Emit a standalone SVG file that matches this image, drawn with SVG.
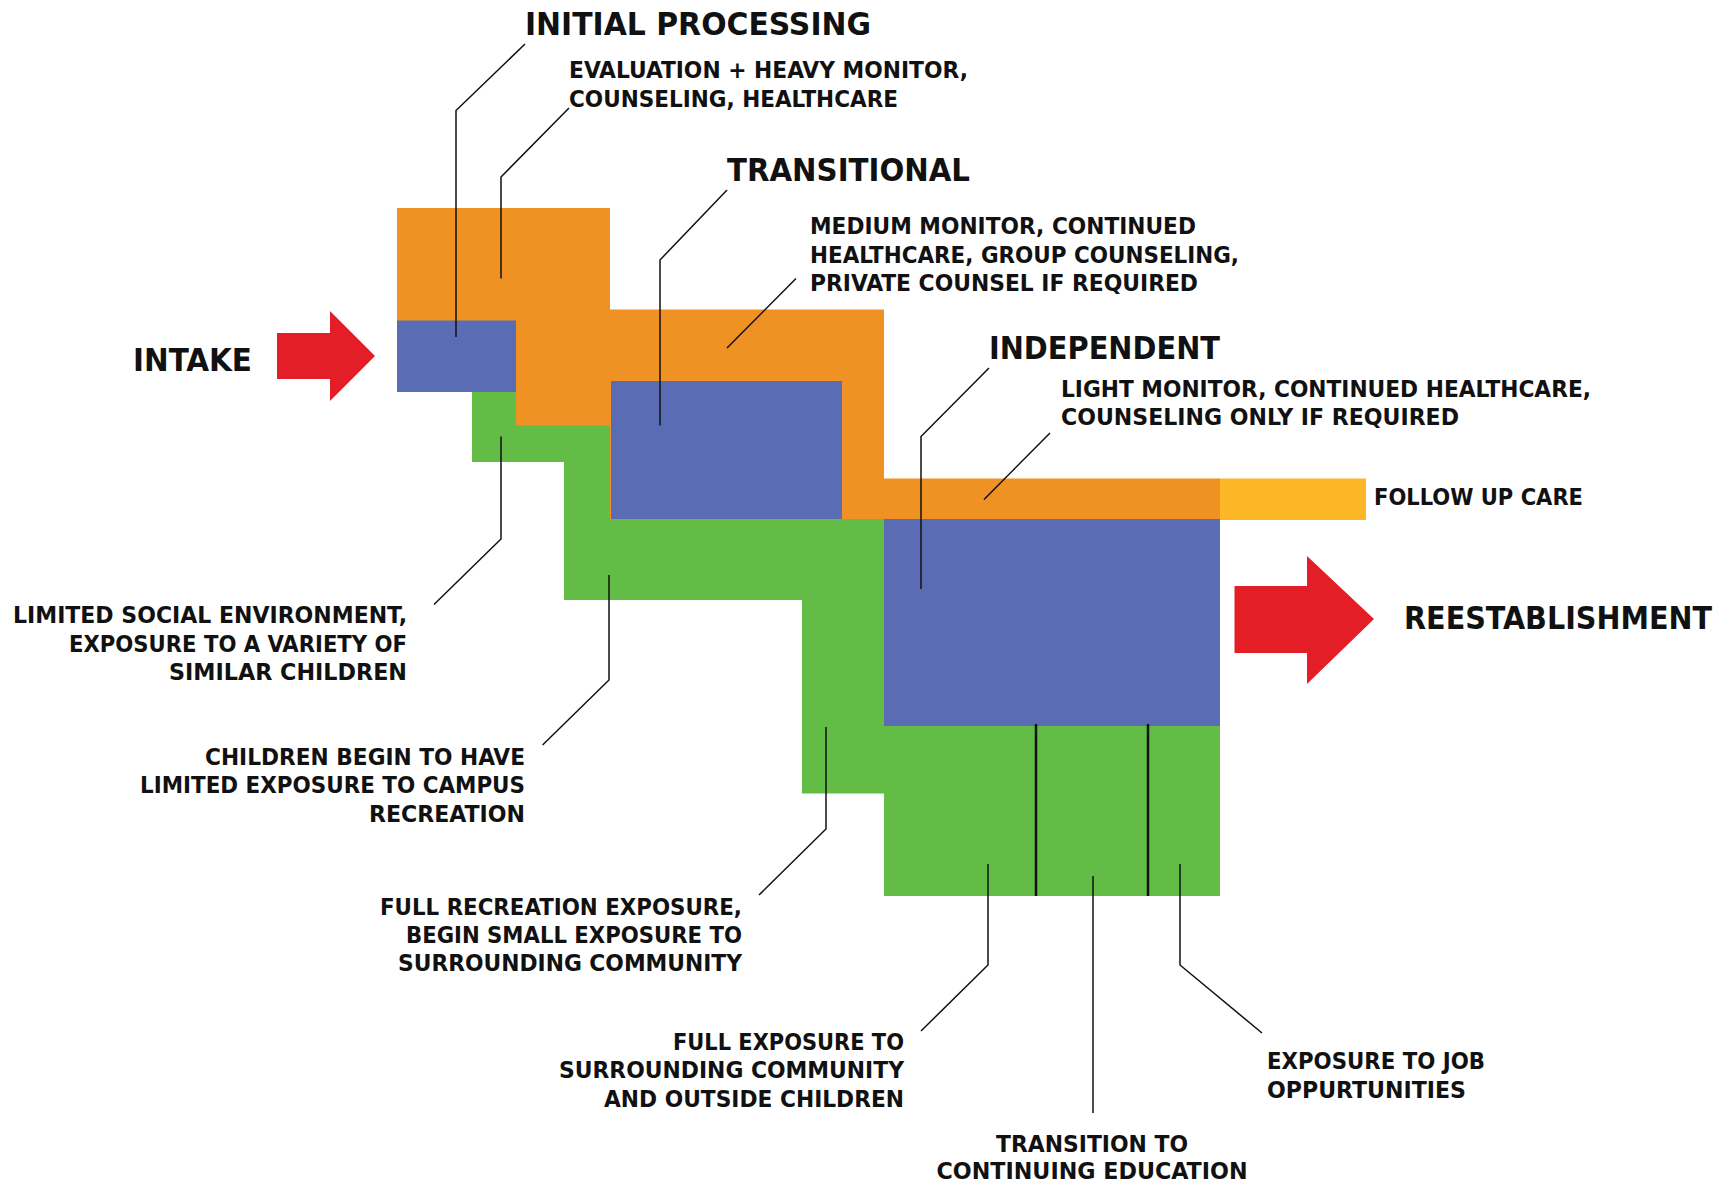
<svg xmlns="http://www.w3.org/2000/svg" width="1733" height="1184" viewBox="0 0 1733 1184">
<style>
.o{fill:#EF9223}.b{fill:#5A6DB4}.g{fill:#63BC46}.y{fill:#FCB626}.r{fill:#E41E26}
.t{font-family:"DejaVu Sans Condensed","DejaVu Sans","Liberation Sans",sans-serif;font-weight:bold;fill:#111}
.h{font-size:32px}.s{font-size:23px}
.e{text-anchor:end}.m{text-anchor:middle}
.ld{fill:none;stroke:#111;stroke-width:1.5}
.dv{fill:none;stroke:#111;stroke-width:2.5}
</style>
<rect width="1733" height="1184" fill="#fff"/>
<g id="blocks">
<polygon id="green-exposure" class="g" points="472,392 620,392 620,519 884,519 884,726 1220,726 1220,896 884,896 884,793.5 802,793.5 802,600 564,600 564,462 472,462"/>
<polygon id="initial-processing-care" class="o" points="397,208 610,208 610,425.5 516,425.5 516,392 397,392"/>
<polygon id="transitional-care" class="o" points="610,309.5 884,309.5 884,478.5 1220,478.5 1220,519 610,519"/>
<rect id="initial-processing" class="b" x="397" y="320.5" width="119" height="71.5"/>
<rect id="transitional" class="b" x="611" y="381" width="231" height="138"/>
<rect id="independent" class="b" x="884" y="519" width="336" height="207"/>
<rect id="follow-up-care" class="y" x="1220" y="478.5" width="146" height="41.5"/>
</g>
<g id="connectors">
<polyline class="ld" points="525,44 456,110.5 456,337"/>
<polyline class="ld" points="569,108 501,177 501,278.5"/>
<polyline class="ld" points="727,190 660,260 660,425.5"/>
<polyline class="ld" points="796,278.5 727,348"/>
<polyline class="ld" points="989,368 921,436.5 921,589"/>
<polyline class="ld" points="1050,433 984,499.5"/>
<polyline class="ld" points="434,604.5 501,539 501,436.5"/>
<polyline class="ld" points="542.6,745 609,680 609,575"/>
<polyline class="ld" points="759,895 826,829 826,727"/>
<polyline class="ld" points="921,1031 988,965 988,864"/>
<polyline class="ld" points="1093,1113 1093,876"/>
<polyline class="ld" points="1262,1033 1180,965 1180,864"/>
<line class="dv" x1="1036" y1="724" x2="1036" y2="896"/>
<line class="dv" x1="1148" y1="724" x2="1148" y2="896"/>
</g>
<g id="intake-arrow">
<polygon class="r" points="277,333 330,333 330,311 375,356 330,401 330,379 277,379"/>
</g>
<g id="reestablishment-arrow">
<polygon class="r" points="1234.5,586 1307,586 1307,556 1374,619 1307,684 1307,653 1234.5,653"/>
</g>
<g id="label-intake"><text class="t h" x="133" y="371" textLength="119" lengthAdjust="spacingAndGlyphs">INTAKE</text></g>
<g id="label-reestablishment"><text class="t h" x="1404" y="629" textLength="308" lengthAdjust="spacingAndGlyphs">REESTABLISHMENT</text></g>
<g id="label-initial-processing">
<text class="t h" x="525" y="35" textLength="346" lengthAdjust="spacingAndGlyphs">INITIAL PROCESSING</text>
<text class="t s" x="569" y="78" textLength="399" lengthAdjust="spacingAndGlyphs">EVALUATION + HEAVY MONITOR,</text>
<text class="t s" x="569" y="107" textLength="329" lengthAdjust="spacingAndGlyphs">COUNSELING, HEALTHCARE</text>
</g>
<g id="label-transitional">
<text class="t h" x="727" y="181" textLength="243" lengthAdjust="spacingAndGlyphs">TRANSITIONAL</text>
<text class="t s" x="810" y="234" textLength="386" lengthAdjust="spacingAndGlyphs">MEDIUM MONITOR, CONTINUED</text>
<text class="t s" x="810" y="263" textLength="429" lengthAdjust="spacingAndGlyphs">HEALTHCARE, GROUP COUNSELING,</text>
<text class="t s" x="810" y="291" textLength="388" lengthAdjust="spacingAndGlyphs">PRIVATE COUNSEL IF REQUIRED</text>
</g>
<g id="label-independent">
<text class="t h" x="989" y="359" textLength="231" lengthAdjust="spacingAndGlyphs">INDEPENDENT</text>
<text class="t s" x="1061" y="397" textLength="530" lengthAdjust="spacingAndGlyphs">LIGHT MONITOR, CONTINUED HEALTHCARE,</text>
<text class="t s" x="1061" y="425" textLength="398" lengthAdjust="spacingAndGlyphs">COUNSELING ONLY IF REQUIRED</text>
</g>
<g id="label-follow-up"><text class="t s" x="1374" y="505" textLength="209" lengthAdjust="spacingAndGlyphs">FOLLOW UP CARE</text></g>
<g id="label-limited-social">
<text class="t s e" x="407" y="623" textLength="394" lengthAdjust="spacingAndGlyphs">LIMITED SOCIAL ENVIRONMENT,</text>
<text class="t s e" x="407" y="652" textLength="338" lengthAdjust="spacingAndGlyphs">EXPOSURE TO A VARIETY OF</text>
<text class="t s e" x="407" y="680" textLength="238" lengthAdjust="spacingAndGlyphs">SIMILAR CHILDREN</text>
</g>
<g id="label-campus">
<text class="t s e" x="525" y="765" textLength="320" lengthAdjust="spacingAndGlyphs">CHILDREN BEGIN TO HAVE</text>
<text class="t s e" x="525" y="793" textLength="385" lengthAdjust="spacingAndGlyphs">LIMITED EXPOSURE TO CAMPUS</text>
<text class="t s e" x="525" y="822" textLength="156" lengthAdjust="spacingAndGlyphs">RECREATION</text>
</g>
<g id="label-full-recreation">
<text class="t s e" x="742" y="915" textLength="362" lengthAdjust="spacingAndGlyphs">FULL RECREATION EXPOSURE,</text>
<text class="t s e" x="742" y="943" textLength="336" lengthAdjust="spacingAndGlyphs">BEGIN SMALL EXPOSURE TO</text>
<text class="t s e" x="742" y="971" textLength="344" lengthAdjust="spacingAndGlyphs">SURROUNDING COMMUNITY</text>
</g>
<g id="label-full-exposure">
<text class="t s e" x="904" y="1050" textLength="231" lengthAdjust="spacingAndGlyphs">FULL EXPOSURE TO</text>
<text class="t s e" x="904" y="1078" textLength="345" lengthAdjust="spacingAndGlyphs">SURROUNDING COMMUNITY</text>
<text class="t s e" x="904" y="1107" textLength="300" lengthAdjust="spacingAndGlyphs">AND OUTSIDE CHILDREN</text>
</g>
<g id="label-education">
<text class="t s m" x="1092" y="1152" textLength="192" lengthAdjust="spacingAndGlyphs">TRANSITION TO</text>
<text class="t s m" x="1092" y="1179" textLength="311" lengthAdjust="spacingAndGlyphs">CONTINUING EDUCATION</text>
</g>
<g id="label-job">
<text class="t s" x="1267" y="1069" textLength="218" lengthAdjust="spacingAndGlyphs">EXPOSURE TO JOB</text>
<text class="t s" x="1267" y="1098" textLength="199" lengthAdjust="spacingAndGlyphs">OPPURTUNITIES</text>
</g>
</svg>
